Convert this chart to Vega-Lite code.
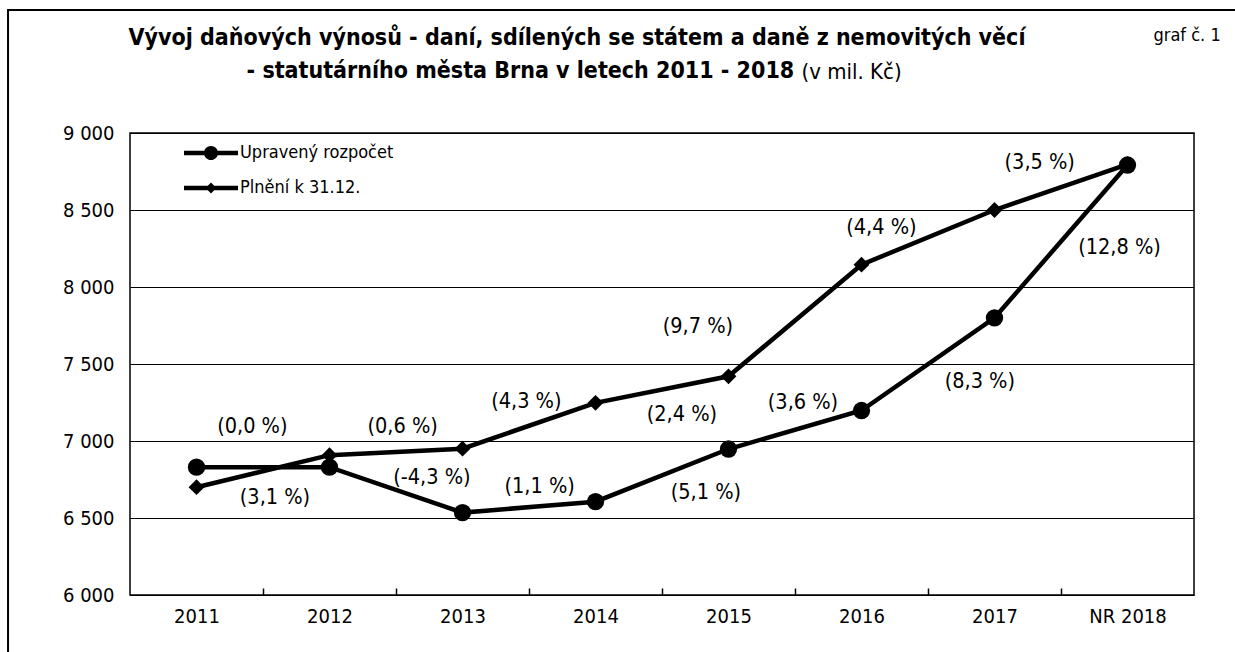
{
  "$schema": "https://vega.github.io/schema/vega-lite/v6.json",
  "width": 1064,
  "height": 462,
  "autosize": "none",
  "padding": {"left": 130, "top": 133, "right": 41, "bottom": 57},
  "background": "white",
  "config": {
    "font": "DejaVu Sans Condensed, DejaVu Sans",
    "view": {"stroke": "black", "strokeWidth": 1.5}
  },
  "title": {
    "text": [
      "Vývoj daňových výnosů - daní, sdílených se státem a daně z nemovitých věcí",
      "- statutárního města Brna v letech 2011 - 2018\u2800\u2800\u2800\u2800\u2800\u2800\u2800"
    ],
    "fontSize": 23,
    "fontWeight": "bold",
    "lineHeight": 33,
    "anchor": "middle",
    "dx": -85,
    "offset": -74,
    "color": "black"
  },
  "datasets": {
    "pts": [
      {"year": "2011", "i": 0, "series": "Plnění k 31.12.", "value": 6700},
      {"year": "2012", "i": 1, "series": "Plnění k 31.12.", "value": 6908},
      {"year": "2013", "i": 2, "series": "Plnění k 31.12.", "value": 6950},
      {"year": "2014", "i": 3, "series": "Plnění k 31.12.", "value": 7248},
      {"year": "2015", "i": 4, "series": "Plnění k 31.12.", "value": 7420},
      {"year": "2016", "i": 5, "series": "Plnění k 31.12.", "value": 8145},
      {"year": "2017", "i": 6, "series": "Plnění k 31.12.", "value": 8500},
      {"year": "NR 2018", "i": 7, "series": "Plnění k 31.12.", "value": 8797},
      {"year": "2011", "i": 0, "series": "Upravený rozpočet", "value": 6830},
      {"year": "2012", "i": 1, "series": "Upravený rozpočet", "value": 6830},
      {"year": "2013", "i": 2, "series": "Upravený rozpočet", "value": 6535},
      {"year": "2014", "i": 3, "series": "Upravený rozpočet", "value": 6606},
      {"year": "2015", "i": 4, "series": "Upravený rozpočet", "value": 6948},
      {"year": "2016", "i": 5, "series": "Upravený rozpočet", "value": 7198},
      {"year": "2017", "i": 6, "series": "Upravený rozpočet", "value": 7800},
      {"year": "NR 2018", "i": 7, "series": "Upravený rozpočet", "value": 8792}
    ],
    "labels": [
      {"t": "(0,0 %)", "i": 0.42, "value": 7091},
      {"t": "(3,1 %)", "i": 0.59, "value": 6630},
      {"t": "(0,6 %)", "i": 1.55, "value": 7091},
      {"t": "(-4,3 %)", "i": 1.77, "value": 6760},
      {"t": "(4,3 %)", "i": 2.48, "value": 7253},
      {"t": "(1,1 %)", "i": 2.58, "value": 6701},
      {"t": "(2,4 %)", "i": 3.65, "value": 7169},
      {"t": "(5,1 %)", "i": 3.83, "value": 6662},
      {"t": "(9,7 %)", "i": 3.77, "value": 7740},
      {"t": "(3,6 %)", "i": 4.56, "value": 7247},
      {"t": "(4,4 %)", "i": 5.15, "value": 8383},
      {"t": "(8,3 %)", "i": 5.89, "value": 7383},
      {"t": "(3,5 %)", "i": 6.34, "value": 8805},
      {"t": "(12,8 %)", "i": 6.94, "value": 8253}
    ]
  },
  "layer": [
    {
      "data": {"name": "pts"},
      "mark": {"type": "line", "color": "black", "strokeWidth": 4.5},
      "encoding": {
        "x": {
          "field": "i",
          "type": "quantitative",
          "scale": {"domain": [-0.5, 7.5], "nice": false, "zero": false},
          "axis": {
            "values": [0, 0.5, 1, 1.5, 2, 2.5, 3, 3.5, 4, 4.5, 5, 5.5, 6, 6.5, 7],
            "labelExpr": "datum.value % 1 ? '' : ['2011','2012','2013','2014','2015','2016','2017','NR 2018'][datum.value]",
            "labelOverlap": false,
            "labelFlush": false,
            "labelFontSize": 20,
            "labelColor": "black",
            "labelPadding": 18,
            "grid": false,
            "domain": false,
            "tickColor": "black",
            "tickWidth": 1.5,
            "tickSize": -7,
            "tickOpacity": {"condition": {"test": "datum.value % 1 === 0", "value": 0}, "value": 1},
            "title": "graf č. 1",
            "titleFontSize": 18,
            "titleFontWeight": "normal",
            "titleColor": "black",
            "titleAngle": 0,
            "titleAlign": "left",
            "titleBaseline": "alphabetic",
            "titleX": 1023,
            "titleY": -555
          }
        },
        "y": {
          "field": "value",
          "type": "quantitative",
          "scale": {"domain": [6000, 9000], "nice": false, "zero": false},
          "axis": {
            "values": [6000, 6500, 7000, 7500, 8000, 8500, 9000],
            "labelExpr": "replace(format(datum.value, ','), ',', ' ')",
            "labelFontSize": 20,
            "labelColor": "black",
            "labelPadding": 16,
            "ticks": false,
            "domain": false,
            "grid": true,
            "gridColor": "black",
            "gridWidth": 1,
            "title": "(v mil. Kč)",
            "titleFontSize": 22,
            "titleFontWeight": "normal",
            "titleColor": "black",
            "titleAngle": 0,
            "titleAlign": "left",
            "titleBaseline": "alphabetic",
            "titleX": 671,
            "titleY": -55
          }
        },
        "detail": {"field": "series"}
      }
    },
    {
      "data": {"name": "pts"},
      "mark": {"type": "point", "filled": true, "color": "black", "opacity": 1},
      "encoding": {
        "x": {"field": "i", "type": "quantitative"},
        "y": {"field": "value", "type": "quantitative"},
        "shape": {
          "field": "series",
          "type": "nominal",
          "scale": {"domain": ["Upravený rozpočet", "Plnění k 31.12."], "range": ["circle", "diamond"]},
          "legend": null
        },
        "size": {
          "field": "series",
          "type": "nominal",
          "scale": {"domain": ["Upravený rozpočet", "Plnění k 31.12."], "range": [300, 250]},
          "legend": null
        }
      }
    },
    {
      "data": {"name": "pts"},
      "mark": {"type": "point", "filled": true, "fill": "black", "strokeWidth": 0, "opacity": 0, "size": 729},
      "encoding": {
        "x": {"field": "i", "type": "quantitative"},
        "y": {"field": "value", "type": "quantitative"},
        "shape": {
          "field": "series",
          "type": "nominal",
          "scale": {
            "domain": ["Upravený rozpočet", "Plnění k 31.12."],
            "range": [
              "M-2,-0.17H2V0.17H-2Z M0.52,0A0.52,0.52 0 1 1 -0.52,0A0.52,0.52 0 1 1 0.52,0Z",
              "M-2,-0.17H2V0.17H-2Z M0,-0.4L0.4,0L0,0.4L-0.4,0Z"
            ]
          },
          "legend": {
            "title": null,
            "orient": "none",
            "legendX": 67.5,
            "legendY": 6.5,
            "padding": 0,
            "symbolSize": 729,
            "symbolOpacity": 1,
            "symbolFillColor": "black",
            "symbolStrokeWidth": 0,
            "labelFontSize": 18,
            "labelColor": "black",
            "labelOffset": 15.5,
            "rowPadding": 12,
            "labelLimit": 300
          }
        }
      }
    },
    {
      "data": {"name": "labels"},
      "mark": {"type": "text", "fontSize": 21.5, "color": "black", "align": "center", "baseline": "middle"},
      "encoding": {
        "x": {"field": "i", "type": "quantitative"},
        "y": {"field": "value", "type": "quantitative"},
        "text": {"field": "t"}
      }
    },
    {
      "data": {"values": [{}]},
      "mark": {"type": "rect", "filled": false, "stroke": "black", "strokeWidth": 2, "clip": false},
      "encoding": {
        "x": {"datum": -1.417, "type": "quantitative"},
        "x2": {"datum": 7.846},
        "y": {"datum": 9799, "type": "quantitative"},
        "y2": {"datum": 5578}
      }
    }
  ],
  "resolve": {"scale": {"shape": "independent", "size": "independent"}}
}
